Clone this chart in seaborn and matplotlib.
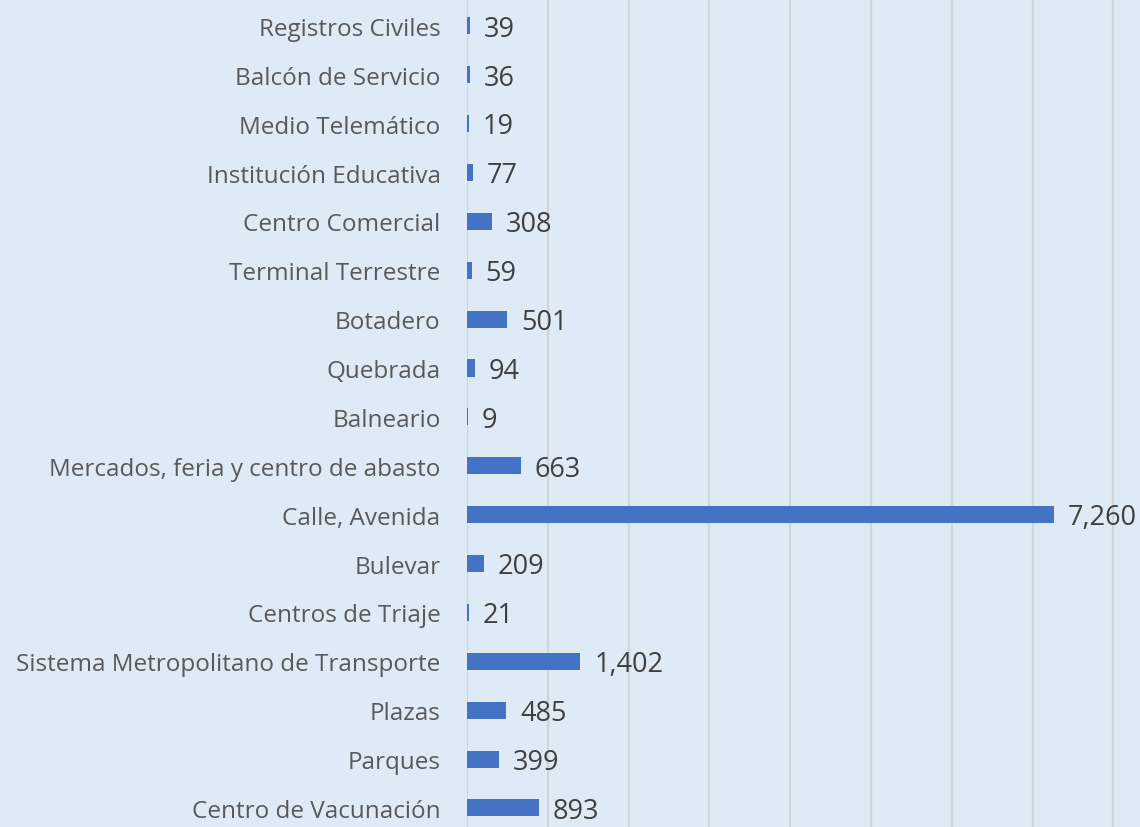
import matplotlib
matplotlib.use("Agg")
import matplotlib.pyplot as plt
import seaborn as sns
import pandas as pd

categories = [
    "Registros Civiles",
    "Balcón de Servicio",
    "Medio Telemático",
    "Institución Educativa",
    "Centro Comercial",
    "Terminal Terrestre",
    "Botadero",
    "Quebrada",
    "Balneario",
    "Mercados, feria y centro de abasto",
    "Calle, Avenida",
    "Bulevar",
    "Centros de Triaje",
    "Sistema Metropolitano de Transporte",
    "Plazas",
    "Parques",
    "Centro de Vacunación",
]
values = [39, 36, 19, 77, 308, 59, 501, 94, 9, 663, 7260, 209, 21, 1402, 485, 399, 893]

df = pd.DataFrame({"lugar": categories, "total": values})

bg = "#DEEAF6"
bar_color = "#4472C4"

sns.set_theme(style="white")
plt.rcParams["font.family"] = ["Open Sans", "DejaVu Sans"]

fig = plt.figure(figsize=(11.4, 8.28), dpi=100, facecolor=bg)
ax = fig.add_axes([467 / 1140, 0, 1 - 467 / 1140, 1])
ax.set_facecolor(bg)

sns.barplot(data=df, y="lugar", x="total", order=categories, orient="h",
            color=bar_color, saturation=1, width=0.35, linewidth=0, ax=ax)

ax.set_xlim(0, 8330)
ax.set_ylim(16.39, -0.55)
ax.set_xticks(range(0, 9000, 1000))
ax.xaxis.grid(True, color="#D2D6DA", linewidth=1.6)
ax.set_axisbelow(True)
ax.set_xticklabels([])
ax.tick_params(axis="x", length=0)
ax.tick_params(axis="y", length=0, pad=19, labelsize=17.5, labelcolor="#595959")
ax.set_xlabel("")
ax.set_ylabel("")
for s in ax.spines.values():
    s.set_visible(False)

labels = [f"{v:,}" for v in values]
texts = ax.bar_label(ax.containers[0], labels=labels, padding=10,
                     fontsize=19.5, color="#404040")
for t in texts:
    t.xyann = (10, -2)

fig.savefig("out.png", dpi=100, facecolor=bg)
